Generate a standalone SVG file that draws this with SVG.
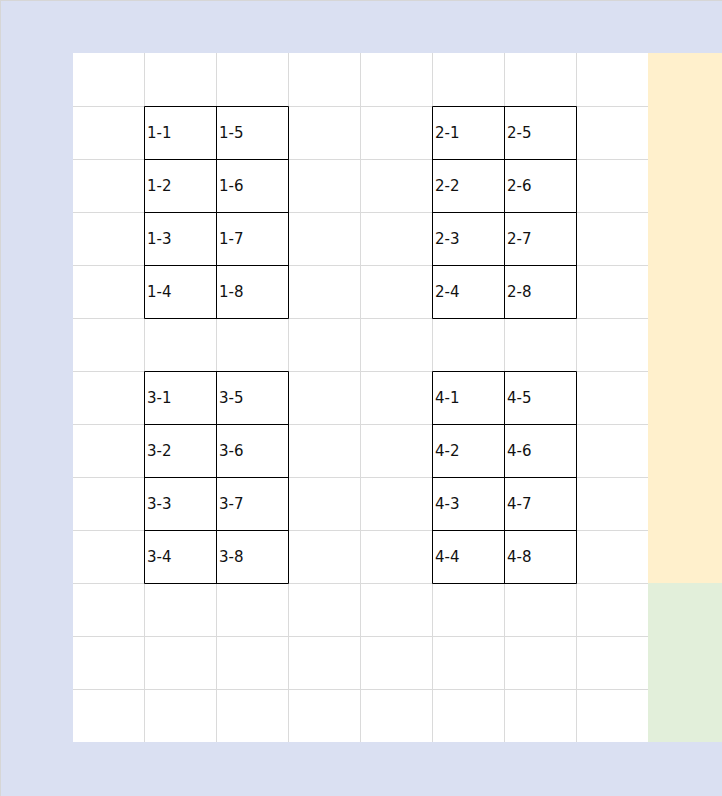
<svg xmlns="http://www.w3.org/2000/svg" width="722" height="796" viewBox="0 0 722 796">
<style>
.grid{stroke:#dadada;stroke-width:1;fill:none}
.cell{stroke:#000;stroke-width:1;fill:none}
.t{font-family:"DejaVu Sans",sans-serif;font-size:15px;fill:#111}
</style>
<rect x="0" y="0" width="722" height="796" fill="#dae0f2"/>
<rect x="0" y="0" width="722" height="1" fill="#d6d6d6"/>
<rect x="0" y="0" width="1" height="796" fill="#d6d6d6"/>
<rect x="73" y="53" width="575" height="689" fill="#ffffff"/>
<rect x="648" y="53" width="74" height="530" fill="#fff0cc"/>
<rect x="648" y="583" width="74" height="159" fill="#e2efda"/>
<g id="grid" class="grid">
<path d="M144.5 53V742M216.5 53V742M288.5 53V742M360.5 53V742M432.5 53V742M504.5 53V742M576.5 53V742"/>
<path d="M73 106.5H648M73 159.5H648M73 212.5H648M73 265.5H648M73 318.5H648M73 371.5H648M73 424.5H648M73 477.5H648M73 530.5H648M73 583.5H648M73 636.5H648M73 689.5H648"/>
</g>
<g id="block1">
<path class="cell" d="M144.5 106.5H288.5V318.5H144.5ZM216.5 106.5V318.5M144.5 159.5H288.5M144.5 212.5H288.5M144.5 265.5H288.5"/>
<text class="t" x="147" y="138">1-1</text><text class="t" x="219" y="138">1-5</text>
<text class="t" x="147" y="191">1-2</text><text class="t" x="219" y="191">1-6</text>
<text class="t" x="147" y="244">1-3</text><text class="t" x="219" y="244">1-7</text>
<text class="t" x="147" y="297">1-4</text><text class="t" x="219" y="297">1-8</text>
</g>
<g id="block2">
<path class="cell" d="M432.5 106.5H576.5V318.5H432.5ZM504.5 106.5V318.5M432.5 159.5H576.5M432.5 212.5H576.5M432.5 265.5H576.5"/>
<text class="t" x="435" y="138">2-1</text><text class="t" x="507" y="138">2-5</text>
<text class="t" x="435" y="191">2-2</text><text class="t" x="507" y="191">2-6</text>
<text class="t" x="435" y="244">2-3</text><text class="t" x="507" y="244">2-7</text>
<text class="t" x="435" y="297">2-4</text><text class="t" x="507" y="297">2-8</text>
</g>
<g id="block3">
<path class="cell" d="M144.5 371.5H288.5V583.5H144.5ZM216.5 371.5V583.5M144.5 424.5H288.5M144.5 477.5H288.5M144.5 530.5H288.5"/>
<text class="t" x="147" y="403">3-1</text><text class="t" x="219" y="403">3-5</text>
<text class="t" x="147" y="456">3-2</text><text class="t" x="219" y="456">3-6</text>
<text class="t" x="147" y="509">3-3</text><text class="t" x="219" y="509">3-7</text>
<text class="t" x="147" y="562">3-4</text><text class="t" x="219" y="562">3-8</text>
</g>
<g id="block4">
<path class="cell" d="M432.5 371.5H576.5V583.5H432.5ZM504.5 371.5V583.5M432.5 424.5H576.5M432.5 477.5H576.5M432.5 530.5H576.5"/>
<text class="t" x="435" y="403">4-1</text><text class="t" x="507" y="403">4-5</text>
<text class="t" x="435" y="456">4-2</text><text class="t" x="507" y="456">4-6</text>
<text class="t" x="435" y="509">4-3</text><text class="t" x="507" y="509">4-7</text>
<text class="t" x="435" y="562">4-4</text><text class="t" x="507" y="562">4-8</text>
</g>
</svg>
